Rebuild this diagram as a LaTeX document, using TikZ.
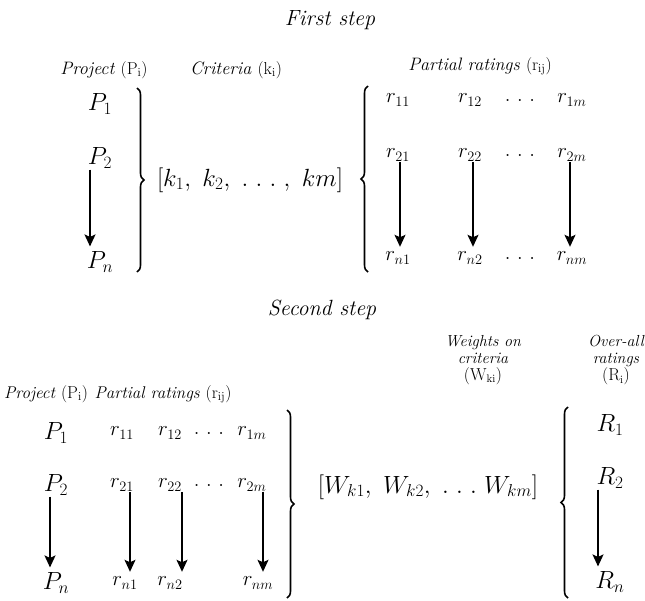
\documentclass[tikz,border=0pt]{standalone}
\usetikzlibrary{arrows.meta,decorations.pathreplacing}
\begin{document}
\begin{tikzpicture}[x=1pt,y=-1pt,
  tit/.style={font=\fontsize{22}{24}\selectfont\itshape, inner sep=0pt},
  hd/.style={font=\fontsize{18}{20}\selectfont\itshape, inner sep=0pt, align=center},
  hdb/.style={font=\fontsize{17}{20}\selectfont\itshape, inner sep=0pt, align=center},
  hdw/.style={font=\fontsize{16}{17}\selectfont\itshape, inner sep=0pt, align=center},
  sym/.style={font=\fontsize{24}{26}\selectfont, inner sep=1pt},
  rr/.style={font=\fontsize{22}{24}\selectfont, inner sep=1pt},
  arr/.style={line width=1.4pt, -{Stealth[length=12pt,width=11pt,inset=2.5pt]}, shorten >=4pt},
  brc/.style={decorate, decoration={brace, amplitude=7pt}, line width=1.6pt}]
\useasboundingbox (0,0) rectangle (645,600);

% ---------- First step ----------
\node[tit] (t1) at (330,20) {First step};
\node[hd] (h1) at (104,70) {Project $(\mathrm{P_i})$};
\node[hd] (h2) at (236,70) {Criteria $(\mathrm{k_i})$};
\node[hd] (h3) at (480,66) {Partial ratings $(\mathrm{r_{ij}})$};

\node[sym] (p1) at (100,104) {$P_1$};
\node[sym] (p2) at (100,158) {$P_2$};
\node[sym] (pn) at (100,262) {$P_n$};
\draw[arr] ([xshift=-10pt]p2.south) -- ([xshift=-10pt]pn.north);

\draw[brc] (137,88) -- (137,272);
\node[sym] (kv) at (250,180) {$[k_1,\ k_2,\ .\ .\ .\ ,\ km]$};
\draw[brc] (368,272) -- (368,86);

\node[rr] (r11) at (398,100) {$r_{11}$};
\node[rr] (r12) at (470,100) {$r_{12}$};
\node[rr] (d1)  at (520,100) {$.\ .\ .$};
\node[rr] (r1m) at (572,100) {$r_{1m}$};
\node[rr] (r21) at (398,155) {$r_{21}$};
\node[rr] (r22) at (470,155) {$r_{22}$};
\node[rr] (d2)  at (520,155) {$.\ .\ .$};
\node[rr] (r2m) at (572,155) {$r_{2m}$};
\node[rr] (rn1) at (398,258) {$r_{n1}$};
\node[rr] (rn2) at (470,258) {$r_{n2}$};
\node[rr] (dn)  at (520,258) {$.\ .\ .$};
\node[rr] (rnm) at (572,258) {$r_{nm}$};
\draw[arr] ([xshift=2pt]r21.south) -- ([xshift=2pt]rn1.north);
\draw[arr] ([xshift=3pt]r22.south) -- ([xshift=3pt]rn2.north);
\draw[arr] ([xshift=-2pt]r2m.south) -- ([xshift=-2pt]rnm.north);

% ---------- Second step ----------
\node[tit] (t2) at (322,310) {Second step};
\node[hdw] (hw) at (483,360) {Weights on\\criteria\\$(\mathrm{W_{ki}})$};
\node[hdw] (ho) at (616,360) {Over-all\\ratings\\$(\mathrm{R_i})$};
\node[hdb] (h4) at (46,394) {Project $(\mathrm{P_i})$};
\node[hdb] (h5) at (163,394) {Partial ratings $(\mathrm{r_{ij}})$};

\node[sym] (q1) at (56,433) {$P_1$};
\node[sym] (q2) at (56,485) {$P_2$};
\node[sym] (qn) at (56,583) {$P_n$};
\draw[arr] ([xshift=-6pt]q2.south) -- ([xshift=-6pt]qn.north);

\node[rr] (s11) at (122,433) {$r_{11}$};
\node[rr] (s12) at (170,433) {$r_{12}$};
\node[rr] (e1)  at (209,433) {$.\ .\ .$};
\node[rr] (s1m) at (252,433) {$r_{1m}$};
\node[rr] (s21) at (122,485) {$r_{21}$};
\node[rr] (s22) at (170,485) {$r_{22}$};
\node[rr] (e2)  at (209,485) {$.\ .\ .$};
\node[rr] (s2m) at (252,485) {$r_{2m}$};
\node[rr] (sn1) at (125,583) {$r_{n1}$};
\node[rr] (sn2) at (170,583) {$r_{n2}$};
\node[rr] (snm) at (258,583) {$r_{nm}$};
\draw[arr] ([xshift=8pt]s21.south) -- ([xshift=5pt]sn1.north);
\draw[arr] ([xshift=12pt]s22.south) -- ([xshift=12pt]sn2.north);
\draw[arr] ([xshift=11pt]s2m.south) -- ([xshift=5pt]snm.north);

\draw[brc] (287,410) -- (287,598);
\node[sym] (wv) at (428,487) {$[W_{k1},\ W_{k2},\ .\ .\ .\ W_{km}]$};
\draw[brc] (568,598) -- (568,407);

\node[sym] (R1) at (610,425) {$R_1$};
\node[sym] (R2) at (610,478) {$R_2$};
\node[sym] (Rn) at (610,582) {$R_n$};
\draw[arr] ([xshift=-12pt]R2.south) -- ([xshift=-12pt]Rn.north);
\end{tikzpicture}
\end{document}
